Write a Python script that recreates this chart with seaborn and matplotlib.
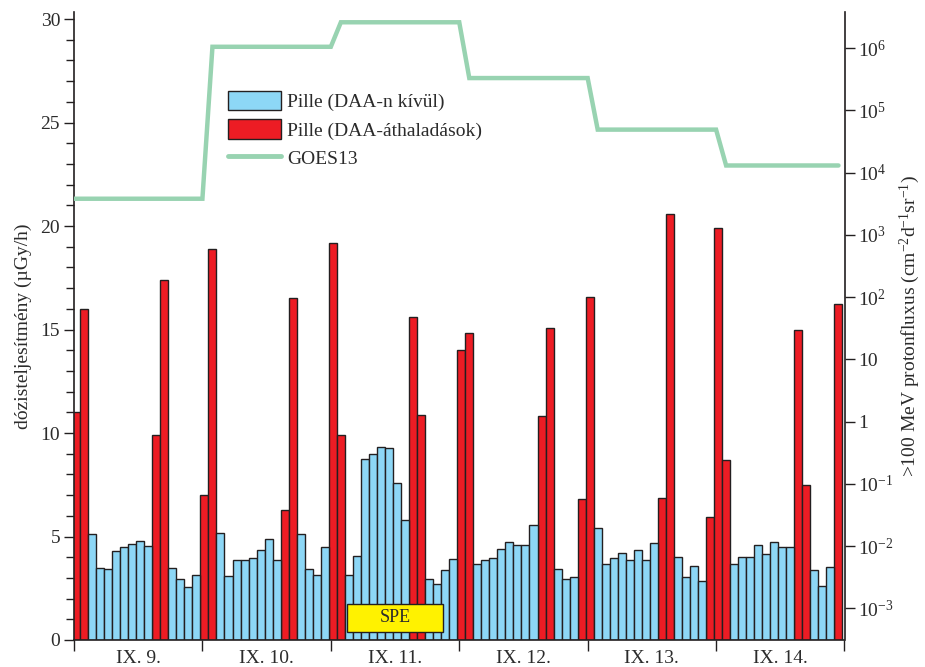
import numpy as np
import pandas as pd
import matplotlib
matplotlib.use("Agg")
import matplotlib.pyplot as plt
import seaborn as sns
from matplotlib.patches import Patch, Rectangle
from matplotlib.lines import Line2D
from matplotlib.ticker import FixedLocator, NullLocator, FixedFormatter

# ---------------- data ----------------
days = ["IX. 9.", "IX. 10.", "IX. 11.", "IX. 12.", "IX. 13.", "IX. 14."]

# dose rate (uGy/h), 16 readings per day
dose_d1 = [11.0, 16.0, 5.1, 3.48, 3.45, 4.31, 4.51, 4.65, 4.80, 4.56, 9.90, 17.4, 3.48, 2.96, 2.56, 3.16]
dose_d2 = [6.99, 18.9, 5.15, 3.11, 3.85, 3.85, 3.95, 4.35, 4.90, 3.88, 6.26, 16.5, 5.14, 3.41, 3.12, 4.49]
dose_d3 = [19.2, 9.92, 3.16, 4.06, 8.76, 8.99, 9.31, 9.29, 7.60, 5.78, 15.6, 10.87, 2.93, 2.69, 3.38, 3.90]
dose_d4 = [13.99, 14.85, 3.67, 3.88, 3.96, 4.38, 4.72, 4.61, 4.61, 5.56, 10.8, 15.09, 3.45, 2.95, 3.03, 6.83]
dose_d5 = [16.59, 5.41, 3.65, 3.96, 4.20, 3.86, 4.33, 3.88, 4.70, 6.84, 20.6, 4.01, 3.04, 3.56, 2.85, 5.96]
dose_d6 = [19.92, 8.70, 3.65, 3.99, 4.01, 4.61, 4.14, 4.75, 4.49, 4.49, 14.99, 7.47, 3.38, 2.59, 3.53, 16.22]

# B = outside SAA, R = SAA passage
kind_d1 = "RRBBBBBBBBRRBBBB"
kind_d2 = "RRBBBBBBBBRRBBBB"
kind_d3 = "RRBBBBBBBBRRBBBB"
kind_d4 = "RRBBBBBBBBRRBBBR"
kind_d5 = "RBBBBBBBBRRBBBBR"
kind_d6 = "RRBBBBBBBBRRBBBR"

# GOES13 >100 MeV proton flux, daily values
goes_flux = [3.8e3, 1.05e6, 2.6e6, 3.3e5, 4.9e4, 1.3e4]

label_blue = "Pille (DAA-n kívül)"
label_red = "Pille (DAA-áthaladások)"
label_goes = "GOES13"

# ---------------- style ----------------
sns.set_theme(style="ticks")
plt.rcParams["font.family"] = ["Liberation Serif", "DejaVu Serif"]
plt.rcParams["mathtext.fontset"] = "custom"
plt.rcParams["mathtext.rm"] = "Liberation Serif"
plt.rcParams["mathtext.it"] = "Liberation Serif:italic"

BLUE = "#8dd7f6"
RED = "#ed1c24"
GREEN = "#98d3b1"
YELLOW = "#fff200"
EDGE = "#231f20"
TXT = "#2b2b2b"

dose = dose_d1 + dose_d2 + dose_d3 + dose_d4 + dose_d5 + dose_d6
kind = kind_d1 + kind_d2 + kind_d3 + kind_d4 + kind_d5 + kind_d6
n_per_day = 16
df = pd.DataFrame({"pos": np.arange(len(dose)), "dose": dose, "kind": list(kind)})

fig = plt.figure(figsize=(9.25, 6.67), dpi=100)
ax = fig.add_axes([74 / 925, 27 / 667, 770.5 / 925, 628 / 667])

sns.barplot(data=df, x="pos", y="dose", hue="kind", palette={"B": BLUE, "R": RED},
            dodge=False, width=1, native_scale=True, errorbar=None, saturation=1,
            edgecolor=EDGE, linewidth=1.0, legend=False, ax=ax)

x0 = -0.25
x1 = len(dose) - 0.25
ax.set_xlim(x0, x1)
ax.set_ylim(0, 30.34)

# x ticks: day boundaries (major) + day labels (minor, centered)
bounds = [x0 + n_per_day * k for k in range(len(days) + 1)]
centers = [x0 + n_per_day * (k + 0.5) for k in range(len(days))]
ax.xaxis.set_major_locator(FixedLocator(bounds))
ax.xaxis.set_major_formatter(FixedFormatter([""] * len(bounds)))
ax.xaxis.set_minor_locator(FixedLocator(centers))
ax.xaxis.set_minor_formatter(FixedFormatter(days))
ax.tick_params(axis="x", which="major", direction="out", length=8, width=1.0, color=EDGE)
ax.tick_params(axis="x", which="minor", length=0, pad=7, labelsize=14, labelcolor=TXT)
ax.set_xlabel("")

ax.yaxis.set_major_locator(FixedLocator(np.arange(0, 31, 5)))
ax.yaxis.set_minor_locator(FixedLocator(np.arange(0, 31, 1)))
ax.tick_params(axis="y", which="major", direction="out", length=7, width=1.0, color=EDGE,
               labelsize=14, labelcolor=TXT, pad=3)
ax.tick_params(axis="y", which="minor", direction="out", length=6, width=1.0, color=EDGE)
ax.set_ylabel("dózisteljesítmény (µGy/h)", fontsize=14, color=TXT, labelpad=6)

for s in ["left", "bottom", "right", "top"]:
    ax.spines[s].set_color(EDGE)
    ax.spines[s].set_linewidth(1.2)
ax.spines["top"].set_visible(False)
ax.spines["right"].set_visible(False)

# SPE marker
ax.add_patch(Rectangle((33.75, 0.39), 11.95, 1.35, facecolor=YELLOW, edgecolor=EDGE,
                       linewidth=1.0, zorder=5))
ax.text(33.75 + 11.95 / 2, 0.39 + 1.35 / 2, "SPE", ha="center", va="center",
        fontsize=13, color=TXT, zorder=6)

# ---------------- GOES on log axis ----------------
ax2 = ax.twinx()
ramp = 1.25
gx = [x0]
gy = [goes_flux[0]]
for k in range(1, len(goes_flux)):
    b = x0 + n_per_day * k
    gx += [b, b + ramp]
    gy += [goes_flux[k - 1], goes_flux[k]]
gx.append(len(dose) - 1.0)
gy.append(goes_flux[-1])
sns.lineplot(x=gx, y=gy, color=GREEN, linewidth=3.2, sort=False, ax=ax2, solid_joinstyle="miter")
ax2.set_yscale("log")
ax2.set_ylim(10 ** -3.51, 10 ** 6.58)
ax2.set_xlim(x0, x1)
dec = [-3, -2, -1, 0, 1, 2, 3, 4, 5, 6]
dec_labels = [r"$10^{%d}$" % d if d not in (0, 1) else ("1" if d == 0 else "10") for d in dec]
ax2.yaxis.set_major_locator(FixedLocator([10.0 ** d for d in dec]))
ax2.yaxis.set_major_formatter(FixedFormatter(dec_labels))
ax2.yaxis.set_minor_locator(NullLocator())
ax2.tick_params(axis="y", which="major", direction="out", length=7, width=1.0, color=EDGE,
                labelsize=14, labelcolor=TXT, pad=3)
ax2.set_ylabel(r">100 MeV protonfluxus (cm$^{-2}$d$^{-1}$sr$^{-1}$)", fontsize=14, color=TXT,
               labelpad=3)
for s in ["left", "bottom", "top"]:
    ax2.spines[s].set_visible(False)
ax2.spines["right"].set_color(EDGE)
ax2.spines["right"].set_linewidth(1.2)

# ---------------- legend ----------------
handles = [Patch(facecolor=BLUE, edgecolor=EDGE, linewidth=1.0, label=label_blue),
           Patch(facecolor=RED, edgecolor=EDGE, linewidth=1.0, label=label_red),
           Line2D([], [], color=GREEN, linewidth=3.5, label=label_goes)]
fig.legend(handles=handles, loc="upper left", bbox_to_anchor=(228 / 925, 1 - 91 / 667),
           frameon=False, fontsize=14, handlelength=2.75, handleheight=1.15,
           handletextpad=0.3, labelspacing=0.42, borderpad=0, borderaxespad=0,
           labelcolor=TXT)

fig.savefig("out.png", dpi=100)
